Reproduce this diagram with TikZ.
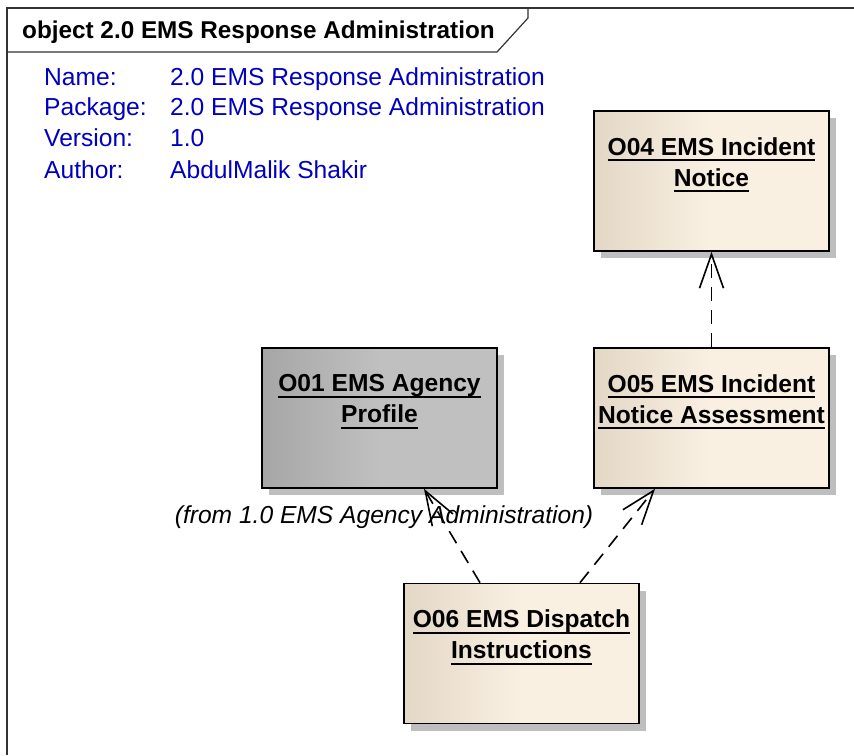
\documentclass[tikz,border=0pt]{standalone}
\usepackage{fontspec}
\setmainfont{Liberation Sans}
\usetikzlibrary{arrows.meta, shadows}
\definecolor{emsblue}{HTML}{0000C0}
\definecolor{objleft}{HTML}{E3D8C6}
\definecolor{objright}{HTML}{FAF0E2}
\definecolor{extleft}{HTML}{A6A6A6}
\definecolor{extright}{HTML}{C0C0C0}
\definecolor{shadowgray}{HTML}{BEBEBE}
\pgfdeclarehorizontalshading{objshade}{100bp}{color(0bp)=(objleft); color(25bp)=(objleft); color(50bp)=(objright); color(100bp)=(objright)}
\pgfdeclarehorizontalshading{extshade}{100bp}{color(0bp)=(extleft); color(25bp)=(extleft); color(50bp)=(extright); color(100bp)=(extright)}
\newcommand{\objline}[1]{\setbox0\hbox{#1}\rlap{\rule[-6pt]{\wd0}{1.8pt}}\box0}

\begin{document}
\begin{tikzpicture}[x=1pt, y=-1pt,
    obj/.style={draw, line width=1.6pt, minimum width=235pt, minimum height=140pt,
                shading=objshade,
                drop shadow={shadow xshift=7pt, shadow yshift=-7pt, fill=shadowgray, opacity=1}},
    ext/.style={obj, shading=extshade},
    title/.style={font=\bfseries\fontsize{24.6}{31}\selectfont, align=center, anchor=north, inner sep=0pt},
    meta/.style={font=\fontsize{24.6}{28}\selectfont, text=emsblue, anchor=base west, inner sep=0pt},
    dep/.style={line width=1.6pt, dash pattern=on 14pt off 9pt,
                -{Straight Barb[length=34pt, width=24pt]}},
]
    \useasboundingbox[fill=white] (0,0) rectangle (854,755);

    % frame and tab
    \draw[line width=1.2pt, black!80] (7,755) -- (7,8) -- (854,8);
    \draw[line width=1.2pt, black!80] (7,52) -- (497,52) -- (528,18) -- (528,8);
    \node[font=\bfseries\fontsize{24.3}{28}\selectfont, anchor=base west, inner sep=0pt] (frame) at (22,38)
        {object 2.0 EMS Response Administration};

    \node[meta] (k1) at (44,85) {Name:};
    \node[meta] (k2) at (44,115) {Package:};
    \node[meta] (k3) at (44,146) {Version:};
    \node[meta] (k4) at (44,178) {Author:};
    \node[meta] (v1) at (170,85) {2.0 EMS Response Administration};
    \node[meta] (v2) at (170,115) {2.0 EMS Response Administration};
    \node[meta] (v3) at (170,146) {1.0};
    \node[meta] (v4) at (170,178) {AbdulMalik Shakir};

    % objects
    \node[obj] (o04) at (711.5,181) {};
    \node[ext] (o01) at (379.5,418) {};
    \node[obj] (o05) at (711.5,418) {};
    \node[obj] (o06) at (521.5,653.5) {};

    \node[title] (o04t) at ([yshift=-27pt]o04.north) {\objline{O04 EMS Incident}\\\objline{Notice}};
    \node[title] (o01t) at ([yshift=-27pt]o01.north) {\objline{O01 EMS Agency}\\\objline{Profile}};
    \node[title] (o05t) at ([yshift=-27pt]o05.north) {\objline{O05 EMS Incident}\\\objline{Notice Assessment}};
    \node[title] (o06t) at ([yshift=-27pt]o06.north) {\objline{O06 EMS Dispatch}\\\objline{Instructions}};

    \node[font=\itshape\fontsize{24.6}{28}\selectfont] (from) at (384,517) {(from 1.0 EMS Agency Administration)};

    % dependencies
    \draw[dep] ([xshift=-41.5pt]o06.north) -- ([xshift=44.5pt]o01.south);
    \draw[dep] ([xshift=58.5pt]o06.north) -- ([xshift=-56.5pt]o05.south);
    \draw[dep] (o05.north) -- (o04.south);
\end{tikzpicture}
\end{document}
